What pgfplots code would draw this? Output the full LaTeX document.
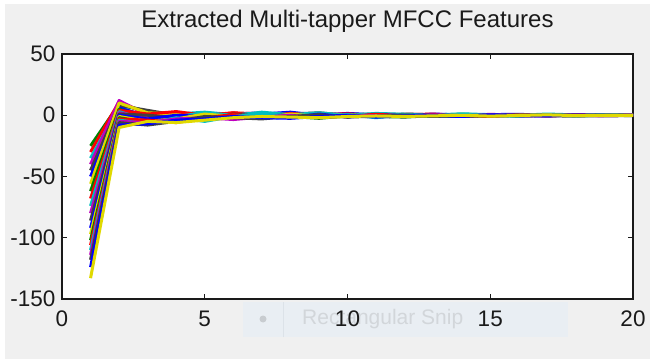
\documentclass[border=0pt]{standalone}
\usepackage{fontspec}
\setmainfont{Liberation Sans}
\usepackage{pgfplots}
\usepackage{pgfplotstable}
\pgfplotsset{compat=1.18}
\definecolor{figgrey}{HTML}{F0F0F0}
\definecolor{snipbg}{HTML}{E9EEF3}
\definecolor{snipline}{HTML}{DCE2E8}
\definecolor{snipdot}{HTML}{C8CCD0}
\definecolor{sniptext}{HTML}{D2D6DA}
\definecolor{axcol}{HTML}{1A1A1A}
\definecolor{mblue}{rgb}{0,0,1}
\definecolor{mgreen}{rgb}{0,0.5,0}
\definecolor{mred}{rgb}{1,0,0}
\definecolor{mcyan}{rgb}{0,0.75,0.75}
\definecolor{mmag}{rgb}{0.75,0,0.75}
\definecolor{myel}{rgb}{0.88,0.85,0}
\definecolor{mgrey}{rgb}{0.25,0.25,0.25}
\pgfplotstableread{
x l1 l2 l3 l4 l5 l6 l7 l8 l9 l10 l11 l12 l13 l14 l15 l16 l17 l18 l19 l20 l21
1 -25 -30 -35 -40 -45 -50 -56 -62 -68 -74 -80 -86 -92 -97 -102 -106 -110 -114 -118 -124 -133
2 9 11 7 12 8 6 10 5 4 3 2 1 0 -1 -2 -3 -4 -5 -6 -8 -10
3 3 1 -2 0 4 -1 2 -3 1 -4 -2 0 -3 -5 -6 -4 -7 -6 -8 -7 -5
4 -2 2 1 -3 0 -4 1 -2 3 -1 -5 -2 0 -3 -4 -6 -2 -3 -5 -4 -6
5 1.5 -1 2.5 1 -2 0.5 -3 -1 0 2 -2 -4 -1 1 -3 -2 -5 -2 -1 -3 -4
6 -1 2 0.5 1 1.5 -1.5 0 -2.5 2 0 -1 1 -3 -1 -2 0.5 -1 -3.5 -2 -1 -2
7 0.5 1 -1.5 2 0 1 1.5 -1 -0.5 2.5 -2 -1 0.5 -2.5 0 -1 1 -1.5 -3 -2 -1
8 1 -1 2 -0.5 1 2.5 -1 0 1.5 0.5 -1.5 0.5 -2 1 -1 -2 -1.5 0 -1 -2.5 -1.5
9 -0.5 1.5 -1 0.5 2 0 1 -1.5 0.5 2 0 -2 1 -1 -2.5 0 -1 -2 0.5 -1 -2
10 0.8 -0.5 1 -1 0 1.5 0.2 -1 1.2 0 -0.8 0.5 -1.5 0.5 -0.5 -1.2 0.5 -0.7 -1.5 0 -1
11 -0.6 0.5 0.5 1.2 -0.5 0.3 1 -0.5 -0.2 1.5 0.4 -1 0.6 -1.2 -1 0.8 -2 -0.3 -0.8 -1.5 -0.6
12 0.3 -0.8 0.3 0.4 1 -0.4 0.5 -1 0.6 0.8 -0.5 0.2 -0.3 0 -1.5 -0.6 0.4 -1.2 0.2 -0.5 -1
13 0.5 0.6 -0.6 0.2 0.4 1 -0.3 -0.2 0.9 0.2 -0.7 -0.4 0.5 -0.8 -0.3 0.3 -0.9 0.2 -1 -0.2 -0.5
14 -0.2 0.3 0.8 -0.5 0.6 0.2 0.9 -0.6 0 1.2 0.2 -0.5 -0.8 0.3 -0.9 -0.4 0.6 -0.5 -0.3 -1 0
15 0.4 -0.4 0.2 0.6 -0.3 0.5 0.1 -0.4 0.7 0.5 -0.6 0.3 0 -0.6 -0.2 -0.7 -0.2 0.3 -0.5 0.4 -0.7
16 -0.3 0.2 -0.5 0.3 0.5 0.8 0.2 -0.1 0.2 0 -0.3 -0.6 0.4 0.1 -0.5 0.2 -0.8 -0.4 0.1 -0.3 -0.2
17 0.2 0.5 0.3 -0.2 0.4 -0.2 0.6 -0.5 0.4 1 0.1 -0.2 -0.5 -0.3 0 -0.3 0.1 -0.6 -0.2 -0.5 0.3
18 0.1 -0.1 0.4 0.2 -0.3 0.3 0.2 -0.2 0.6 0.3 -0.4 0.1 0 -0.2 -0.4 0.2 -0.5 0 -0.6 0.2 -0.3
19 -0.2 0.3 0.1 0.4 0.2 0.5 -0.1 -0.3 0.1 0.6 -0.2 -0.3 0.3 0 -0.1 -0.4 0.2 -0.2 0 -0.4 0
20 0.1 0.2 -0.2 0.1 0.3 0 0.4 -0.1 0.3 0.2 0 -0.2 -0.1 0.1 -0.2 0 -0.1 0.1 -0.3 0 -0.2
}\mfcc
\begin{document}
\begin{tikzpicture}
\fill[white] (0pt,0pt) rectangle (650pt,359pt);
\fill[figgrey] (5pt,0pt) rectangle (650pt,355pt);
\fill[snipbg] (243pt,22pt) rectangle (568pt,57pt);
\draw[snipline,line width=1pt] (283pt,22pt) -- (283pt,57pt);
\fill[snipdot] (263pt,40pt) circle (3.5pt);
\node[anchor=west,text=sniptext,font=\fontsize{21}{21}\selectfont,inner sep=0pt] at (302pt,40pt) {Rectangular Snip};
\begin{axis}[
  at={(62pt,60pt)}, anchor=south west,
  scale only axis, width=571pt, height=245pt,
  xmin=0, xmax=20, ymin=-150, ymax=50,
  xtick={0,5,10,15,20}, ytick={-150,-100,-50,0,50},
  tick align=inside, major tick length=5pt,
  axis line style={axcol,line width=1.2pt},
  tick style={axcol,line width=1pt},
  ticklabel style={font=\fontsize{22.5}{22.5}\selectfont,text=axcol},
  /pgf/number format/assume math mode=true,
  yticklabel style={xshift=-3pt},
  xticklabel style={yshift=-8pt},
  title={Extracted Multi-tapper MFCC Features},
  title style={font=\fontsize{24}{24}\selectfont,text=axcol,at={(0.5,1)},anchor=south,yshift=12pt},
  axis background/.style={fill=white},
  cycle list={{mgreen},{mred},{mcyan},{mmag},{mgrey},{mblue},{myel}},
  every axis plot/.append style={line width=3pt,no marks,line join=round},
]
\pgfplotsinvokeforeach{1,...,21}{\addplot table[x=x,y=l#1]{\mfcc};}
\end{axis}
\end{tikzpicture}
\end{document}
